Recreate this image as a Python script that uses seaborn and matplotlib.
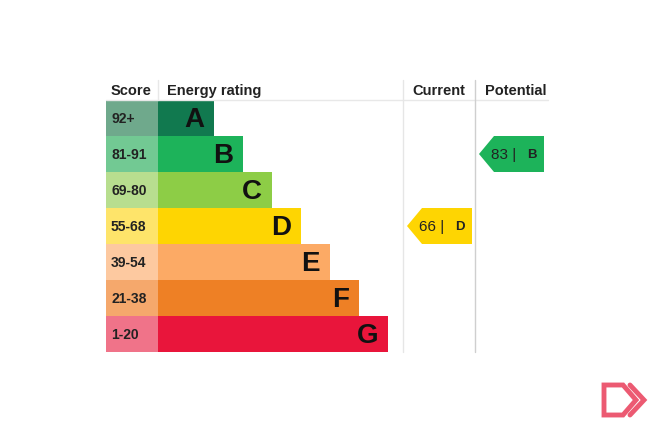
import matplotlib
matplotlib.use("Agg")
import matplotlib.pyplot as plt
import seaborn as sns
import pandas as pd
from matplotlib.patches import Polygon

# ---- data ----
bands = ["A", "B", "C", "D", "E", "F", "G"]
score_ranges = ["92+", "81-91", "69-80", "55-68", "39-54", "21-38", "1-20"]
band_min = [92, 81, 69, 55, 39, 21, 1]
bar_lengths = [56, 85, 114, 143, 172, 201, 230]
bar_colors = ["#11794f", "#1db35a", "#8dcd46", "#fed502", "#fcaa65", "#ee8025", "#e9153b"]
score_colors = ["#6fa98c", "#72c993", "#b8de8f", "#fee46a", "#fdc9a0", "#f5a86c", "#f07389"]
current_rating = 66
potential_rating = 83

sns.set_theme(style="white")
plt.rcParams["font.family"] = ["Liberation Sans", "DejaVu Sans"]

fig = plt.figure(figsize=(6.56, 4.34), dpi=100)
ax = fig.add_axes([0, 0, 1, 1])

X0 = 158  # pixel where rating bars begin
df = pd.DataFrame({"band": bands, "length": bar_lengths, "score": score_ranges,
                   "cell": [-52] * len(bands)})

sns.barplot(data=df, x="cell", y="band", hue="band", palette=dict(zip(bands, score_colors)),
            orient="h", width=1.0, legend=False, ax=ax, linewidth=0, saturation=1)
sns.barplot(data=df, x="length", y="band", hue="band", palette=dict(zip(bands, bar_colors)),
            orient="h", width=1.0, legend=False, ax=ax, linewidth=0, saturation=1)

ax.set_xlim(-X0, 656 - X0)
ax.set_ylim((434 - 118) / 36, -118 / 36)
ax.axis("off")

def py(p):
    return (p - 118) / 36

def px(p):
    return p - X0

# score labels and band letters
for i, (b, s, L) in enumerate(zip(bands, score_ranges, bar_lengths)):
    ax.text(px(111), i + 0.02, s, ha="left", va="center", fontsize=10, fontweight="bold", color="#222222")
    ax.text(L - 10, i + 0.06, b, ha="right", va="center", fontsize=20, fontweight="bold", color="#111111")

# headers
hy = py(91)
ax.text(px(111), hy, "Score", ha="left", va="center", fontsize=10.5, fontweight="bold", color="#222222")
ax.text(px(167), hy, "Energy rating", ha="left", va="center", fontsize=10.5, fontweight="bold", color="#222222")
ax.text(px(439), hy, "Current", ha="center", va="center", fontsize=10.5, fontweight="bold", color="#222222")
ax.text(px(516), hy, "Potential", ha="center", va="center", fontsize=10.5, fontweight="bold", color="#222222")

# grid lines
ax.plot([px(106), px(548)], [py(100), py(100)], color="#e8e8e8", lw=1)
ax.plot([px(158), px(158)], [py(80), py(100)], color="#e8e8e8", lw=1)
ax.plot([px(403), px(403)], [py(80), py(352)], color="#e6e6e6", lw=1)
ax.plot([px(475), px(475)], [py(80), py(352)], color="#cfcfcf", lw=1)

def band_index(r):
    for k, m in enumerate(band_min):
        if r >= m:
            return k
    return len(band_min) - 1

def arrow(rating, tip_px):
    k = band_index(rating)
    x0 = px(tip_px)
    poly = Polygon([(x0, k), (x0 + 15, k - 0.5), (x0 + 65, k - 0.5),
                    (x0 + 65, k + 0.5), (x0 + 15, k + 0.5)],
                   closed=True, facecolor=bar_colors[k], edgecolor="none")
    ax.add_patch(poly)
    ax.text(x0 + 12, k + 0.02, f"{rating} |", ha="left", va="center", fontsize=11, color="#222222")
    ax.text(x0 + 53, k + 0.02, bands[k], ha="center", va="center", fontsize=9.5, fontweight="bold", color="#222222")

arrow(current_rating, 407)
arrow(potential_rating, 479)

# logo (decorative)
pink = "#ec5a72"
ax.add_patch(Polygon([(px(604), py(385)), (px(623), py(385)), (px(636), py(400)),
                      (px(623), py(415)), (px(604), py(415))], closed=True,
                     facecolor="none", edgecolor=pink, lw=3.5, joinstyle="miter"))
ax.plot([px(630), px(644), px(630)], [py(385), py(400), py(415)], color=pink, lw=3.5,
        solid_joinstyle="miter")

fig.savefig("out.png", dpi=100, facecolor="white")
